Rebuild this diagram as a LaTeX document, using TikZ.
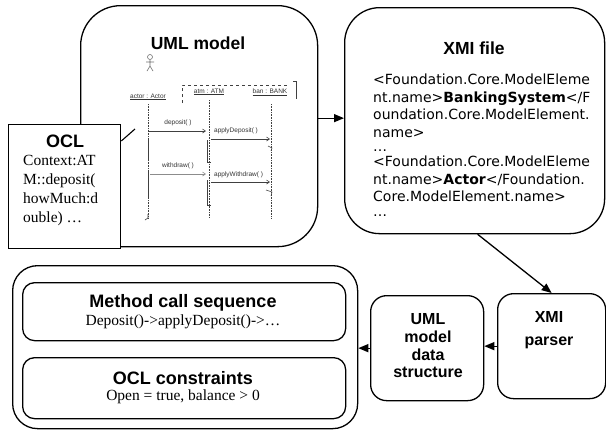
\documentclass[tikz,border=0pt]{standalone}
\usepackage{fontspec}
\setmainfont{Liberation Serif}
\newfontfamily\hfont{Liberation Sans}
\newfontfamily\vfont{DejaVu Sans}
\usetikzlibrary{arrows.meta}
\begin{document}
\begin{tikzpicture}[x=1pt,y=-1pt]
\tikzset{
 box/.style={draw, line width=1.3pt, fill=white, inner sep=0pt, anchor=north west},
 head/.style={font=\hfont\bfseries\fontsize{18}{20}\selectfont, inner sep=0pt},
 shead/.style={font=\hfont\bfseries\fontsize{16}{18}\selectfont, inner sep=0pt, align=center},
 xline/.style={font=\vfont\fontsize{14}{16}\selectfont, anchor=west, inner sep=0pt, text height=10pt, text depth=3pt},
 oline/.style={font=\fontsize{15.5}{18}\selectfont, anchor=west, inner sep=0pt, text height=10.5pt, text depth=3.5pt},
 sub/.style={font=\fontsize{15.5}{17}\selectfont, inner sep=0pt},
 arr/.style={line width=1.3pt, -{Triangle[length=10pt,width=8pt]}},
 seq/.style={line width=0.6pt, black!75},
 life/.style={seq, densely dotted},
 msg/.style={seq, -{Straight Barb[length=3pt,width=4pt]}},
 slab/.style={font=\hfont\fontsize{6.5}{7}\selectfont, inner sep=0pt, text=black!80},
}
\useasboundingbox (0,0) rectangle (606,432);

% UML model box
\node[box, rounded corners=40pt, minimum width=237pt, minimum height=241pt] (uml) at (80,5) {};
\node[head, font=\hfont\bfseries\fontsize{17.5}{20}\selectfont] (umlt) at (198,43) {UML model};

% sequence diagram inside
\draw[seq, black!55] (150,57) circle (2.5pt);
\draw[seq, black!55] (150,60) -- (150,66) (146,62) -- (154,62) (147,71) -- (150,66) -- (153,71);
\node[slab] (actl) at (148,97) {\underline{actor : Actor}};
\node[slab] (atml) at (209,92) {\underline{atm : ATM}};
\node[slab] (bnkl) at (270,92) {\underline{ban : BANK}};
\draw[seq, dashed] (182,103) -- (182,85) -- (288,85);
\draw[seq] (293,81) -- (296,81) -- (296,99);
\draw[life] (148,104) -- (148,218);
\draw[life] (209,100) -- (209,218);
\draw[life] (271,104) -- (271,218);
\draw[seq] (148,138) -- (148,160) (148,170) -- (148,198);
\draw[seq] (148,214) -- (148,218) -- (145,220);
\draw[seq] (207,140) -- (207,162) -- (211,162);
\draw[seq] (207,180) -- (207,205) -- (211,205);
\draw[seq] (268,146) -- (272,148) -- (271,151);
\draw[seq] (266,190) -- (272,192) -- (271,196);
\draw[msg] (148,131) -- (206,131);
\node[slab] (depl) at (178,123) {deposit( )};
\draw[msg] (211,139) -- (270,139);
\node[slab, anchor=west] (adepl) at (214,131) {applyDeposit( )};
\draw[msg, black!45] (150,174) -- (206,174);
\node[slab] (wdl) at (178,166) {withdraw( )};
\draw[msg] (211,182) -- (270,182);
\node[slab, anchor=west] (awdl) at (214,175) {applyWithdraw( )};

% OCL note box
\node[box, minimum width=112pt, minimum height=124pt] (ocl) at (8,124) {};
\coordinate (noteend) at (135,129);
\draw[line width=1.1pt] ([yshift=-17pt]ocl.north east) -- (noteend);
\node[head] (oclt) at (65,141) {OCL};
\node[oline] (o1) at (23,162) {Context:AT};
\node[oline] (o2) at (23,181) {M::deposit(};
\node[oline] (o3) at (23,200) {howMuch:d};
\node[oline] (o4) at (23,219) {ouble) \ldots};

% XMI file box
\node[box, rounded corners=35pt, minimum width=260pt, minimum height=226pt] (xmi) at (344,7) {};
\node[head, font=\hfont\bfseries\fontsize{17.5}{20}\selectfont] (xmit) at (474,48) {XMI file};
\node[xline] (x1) at (373,81) {<Foundation.Core.ModelEleme};
\node[xline] (x2) at (373,98.5) {nt.name>\textbf{BankingSystem}</F};
\node[xline] (x3) at (373,116) {oundation.Core.ModelElement.};
\node[xline] (x4) at (373,133.5) {name>};
\node[xline] (x5) at (373,148) {\ldots};
\node[xline] (x6) at (373,163) {<Foundation.Core.ModelEleme};
\node[xline] (x7) at (373,180.5) {nt.name>\textbf{Actor}</Foundation.};
\node[xline] (x8) at (373,198) {Core.ModelElement.name>};
\node[xline] (x9) at (373,213) {\ldots};

% bottom-left result box
\node[box, rounded corners=25pt, minimum width=345pt, minimum height=163pt] (big) at (12,265) {};
\node[box, rounded corners=12pt, minimum width=323pt, minimum height=58pt] (mcs) at (22,282) {};
\node[head] (mcst) at (183,303) {Method call sequence};
\node[sub] (mcsv) at (183,322) {Deposit()->applyDeposit()->\ldots};
\node[box, rounded corners=12pt, minimum width=323pt, minimum height=61pt] (oclc) at (22,357) {};
\node[head] (oclct) at (183,378) {OCL constraints};
\node[sub] (oclcv) at (183,397) {Open = true, balance > 0};

% data structure and parser
\node[box, rounded corners=16pt, minimum width=113pt, minimum height=105pt] (data) at (370,295) {};
\node[shead, font=\hfont\bfseries\fontsize{16}{17.7}\selectfont] (datat) at (428,346) {UML\\model\\data\\structure};
\node[box, rounded corners=16pt, minimum width=108pt, minimum height=105pt] (parser) at (497,293) {};
\node[shead, font=\hfont\bfseries\fontsize{16}{23}\selectfont] (parsert) at (549,330) {XMI\\parser};

% connectors
\draw[arr] ([yshift=8pt]uml.east) -- ([yshift=8pt]uml.east -| xmi.west);
\draw[arr] ([xshift=3pt]xmi.south) -- (parser.north);
\draw[arr] (parser.west) -- (parser.west -| data.east);
\draw[arr] (data.west) -- (data.west -| big.east);
\end{tikzpicture}
\end{document}
